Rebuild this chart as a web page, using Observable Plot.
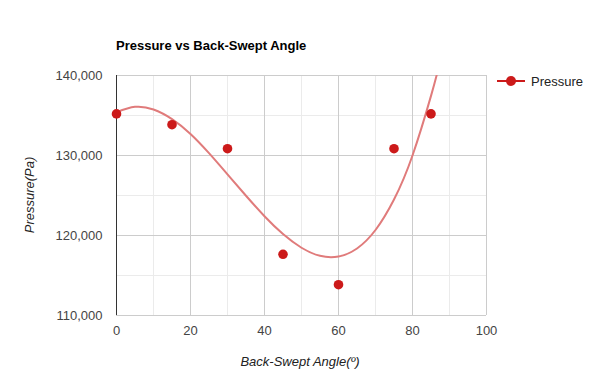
<!DOCTYPE html>
<html>
<head>
<meta charset="utf-8">
<script src="https://cdn.jsdelivr.net/npm/d3@7"></script>
<script src="https://cdn.jsdelivr.net/npm/@observablehq/plot@0.6"></script>
<style>
  html, body { margin: 0; padding: 0; background: #fff; }
  #wrap { position: relative; width: 600px; height: 390px; font-family: Arial, "Liberation Sans", sans-serif; }
  .title { position: absolute; left: 116px; top: 38px; font-size: 13px; font-weight: bold; color: #000; white-space: nowrap; }
  .xtitle { position: absolute; left: 0; width: 600px; text-align: center; top: 354px; font-size: 13px; font-style: italic; color: #222; }
  .ytitle { position: absolute; left: 29px; top: 195px; font-size: 13px; font-style: italic; color: #222; transform: translate(-50%, -50%) rotate(-90deg); white-space: nowrap; }
  .legend { position: absolute; left: 497px; top: 72px; height: 18px; display: flex; align-items: center; font-size: 13px; color: #222; }
  .legend .sym { position: relative; width: 28px; height: 18px; margin-right: 6px; }
  .legend .sym .ln { position: absolute; left: 0; right: 0; top: 8px; height: 1.5px; background: #cc1a1a; }
  .legend .sym .pt { position: absolute; left: 9px; top: 4px; width: 10px; height: 10px; border-radius: 50%; background: #cc1a1a; }
</style>
</head>
<body>
<div id="wrap"></div>
<script>
// Measured data points
const angles = [0, 15, 30, 45, 60, 75, 85];
const pressures = [135200, 133850, 130850, 117650, 113850, 130850, 135200];

// Trendline
const trendAngles =    [0,      5,      10,     15,     20,     25,     30,     35,     40,     45,     50,     55,     60,     65,     70,     75,     80,     85,     87];
const trendPressures = [135400, 136080, 135750, 134550, 132700, 130300, 127650, 124970, 122410, 120180, 118470, 117460, 117370, 118380, 120690, 124500, 130000, 137450, 140900];

// Ticks
const xTicks = [0, 20, 40, 60, 80, 100];
const xMinor = [10, 30, 50, 70, 90];
const yTicks = [110000, 120000, 130000, 140000];
const yMinor = [115000, 125000, 135000];

const points = angles.map((a, i) => ({angle: a, pressure: pressures[i]}));
const trend = trendAngles.map((a, i) => ({angle: a, pressure: trendPressures[i]}));

const chart = Plot.plot({
  width: 600,
  height: 390,
  marginLeft: 116,
  marginRight: 114,
  marginTop: 75,
  marginBottom: 75,
  x: {domain: [0, 100]},
  y: {domain: [110000, 140000]},
  style: {fontFamily: "Arial, 'Liberation Sans', sans-serif", fontSize: "13px", color: "#444", background: "#fff"},
  marks: [
    Plot.gridX(xMinor, {stroke: "#ebebeb", strokeOpacity: 1}),
    Plot.gridY(yMinor, {stroke: "#ebebeb", strokeOpacity: 1}),
    Plot.gridX(xTicks, {stroke: "#cccccc", strokeOpacity: 1}),
    Plot.gridY(yTicks, {stroke: "#cccccc", strokeOpacity: 1}),
    Plot.ruleX([0], {stroke: "#333", strokeWidth: 1}),
    Plot.axisX(xTicks, {tickSize: 0, tickPadding: 10, label: null, fill: "#444"}),
    Plot.axisY(yTicks, {tickSize: 0, tickPadding: 14, label: null, fill: "#444", tickFormat: d3.format(",")}),
    Plot.line(trend, {x: "angle", y: "pressure", curve: "natural", stroke: "#e07b7b", strokeWidth: 2, clip: true}),
    Plot.dot(points, {x: "angle", y: "pressure", r: 4.8, fill: "#cc1a1a", stroke: "none"})
  ]
});

const wrap = document.getElementById("wrap");
wrap.appendChild(chart);
wrap.insertAdjacentHTML("beforeend",
  '<div class="title">Pressure vs Back-Swept Angle</div>' +
  '<div class="xtitle">Back-Swept Angle(º)</div>' +
  '<div class="ytitle">Pressure(Pa)</div>' +
  '<div class="legend"><div class="sym"><div class="ln"></div><div class="pt"></div></div>Pressure</div>'
);
</script>
</body>
</html>
